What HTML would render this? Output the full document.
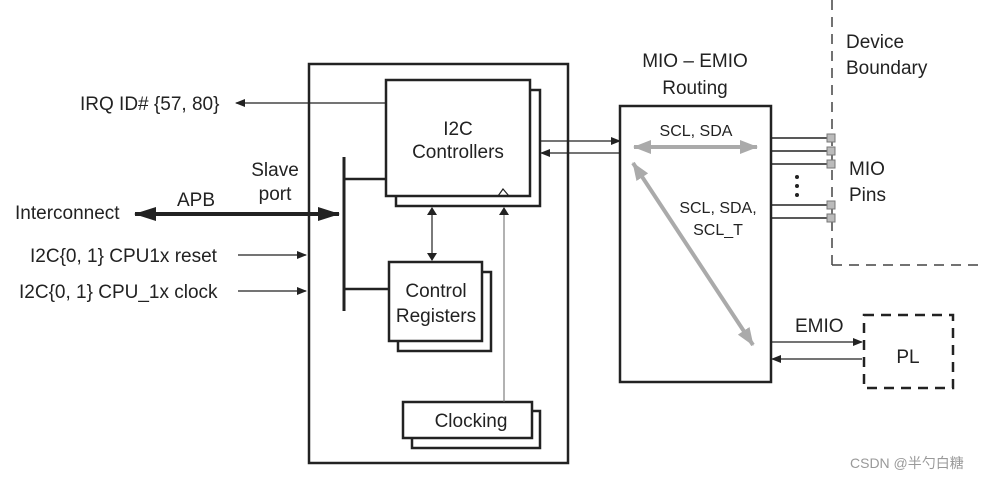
<!DOCTYPE html>
<html><head><meta charset="utf-8"><style>
body{margin:0;background:#fff;}
svg text{font-family:"Liberation Sans",Arial,sans-serif;fill:#222;}
</style></head><body>
<svg width="1002" height="481" viewBox="0 0 1002 481" xmlns="http://www.w3.org/2000/svg">
<defs>
<marker id="a" markerWidth="10" markerHeight="8" refX="9" refY="4" orient="auto" markerUnits="userSpaceOnUse"><path d="M0,0 L10,4 L0,8 Z" fill="#222"/></marker>
<marker id="ab" markerWidth="22" markerHeight="14" refX="21" refY="7" orient="auto-start-reverse" markerUnits="userSpaceOnUse"><path d="M0,0 L22,7 L0,14 Z" fill="#222"/></marker>
<marker id="ag" markerWidth="18" markerHeight="14" refX="17" refY="7" orient="auto-start-reverse" markerUnits="userSpaceOnUse"><path d="M0,0 L18,7 L0,14 Z" fill="#aaa"/></marker>
<marker id="as" markerWidth="8" markerHeight="10" refX="7" refY="5" orient="auto-start-reverse" markerUnits="userSpaceOnUse"><path d="M0,0 L8,5 L0,10 Z" fill="#222"/></marker>
</defs>
<g fill="none" stroke="#222">
<rect x="309" y="64" width="259" height="399" stroke-width="2.5"/>
<rect x="396" y="90" width="144" height="116" fill="#fff" stroke-width="2.5"/>
<rect x="386" y="80" width="144" height="116" fill="#fff" stroke-width="2.5"/>
<path d="M498,196 L503,189 L509,196" stroke-width="1.2"/>
<rect x="398" y="272" width="93" height="79" fill="#fff" stroke-width="2.5"/>
<rect x="389" y="262" width="93" height="79" fill="#fff" stroke-width="2.5"/>
<rect x="412" y="411" width="128" height="37" fill="#fff" stroke-width="2.5"/>
<rect x="403" y="402" width="129" height="36" fill="#fff" stroke-width="2.5"/>
<line x1="344" y1="157" x2="344" y2="311" stroke-width="3"/>
<line x1="344" y1="179" x2="386" y2="179" stroke-width="2.5"/>
<line x1="344" y1="289" x2="389" y2="289" stroke-width="2.5"/>
<line x1="135" y1="214" x2="339" y2="214" stroke-width="4" marker-start="url(#ab)" marker-end="url(#ab)"/>
<line x1="238" y1="255" x2="306" y2="255" stroke-width="1.2" marker-end="url(#a)"/>
<line x1="238" y1="291" x2="306" y2="291" stroke-width="1.2" marker-end="url(#a)"/>
<line x1="386" y1="103" x2="236" y2="103" stroke-width="1.2" marker-end="url(#a)"/>
<line x1="432" y1="208" x2="432" y2="260" stroke-width="1.2" marker-start="url(#as)" marker-end="url(#as)"/>
<line x1="504" y1="402" x2="504" y2="208" stroke-width="1" stroke="#666" marker-end="url(#as)"/>
<line x1="540" y1="141" x2="620" y2="141" stroke-width="1.2" marker-end="url(#a)"/>
<line x1="620" y1="153" x2="541" y2="153" stroke-width="1.2" marker-end="url(#a)"/>
<rect x="620" y="106" width="151" height="276" stroke-width="2.5"/>
<line x1="634" y1="147" x2="757" y2="147" stroke="#aaa" stroke-width="4" marker-start="url(#ag)" marker-end="url(#ag)"/>
<line x1="633" y1="163" x2="753" y2="345" stroke="#aaa" stroke-width="4" marker-start="url(#ag)" marker-end="url(#ag)"/>
<g stroke-width="1.5">
<line x1="771" y1="138" x2="831" y2="138"/><line x1="771" y1="151" x2="831" y2="151"/>
<line x1="771" y1="164" x2="831" y2="164"/><line x1="771" y1="205" x2="831" y2="205"/>
<line x1="771" y1="218" x2="831" y2="218"/>
</g>
<line x1="832" y1="0" x2="832" y2="265" stroke="#444" stroke-width="1.5" stroke-dasharray="10,7"/>
<line x1="832" y1="265" x2="978" y2="265" stroke="#444" stroke-width="1.5" stroke-dasharray="10,7"/>
<g fill="#bbb" stroke="#777" stroke-width="1">
<rect x="827" y="134" width="8" height="8"/><rect x="827" y="147" width="8" height="8"/>
<rect x="827" y="160" width="8" height="8"/><rect x="827" y="201" width="8" height="8"/>
<rect x="827" y="214" width="8" height="8"/>
</g>
<line x1="771" y1="342" x2="862" y2="342" stroke-width="1.2" marker-end="url(#a)"/>
<line x1="862" y1="359" x2="772" y2="359" stroke-width="1.2" marker-end="url(#a)"/>
<rect x="864" y="315" width="89" height="73" stroke-width="2.5" stroke-dasharray="10,7"/>
</g>
<g fill="#222"><circle cx="797" cy="177" r="2"/><circle cx="797" cy="186" r="2"/><circle cx="797" cy="195" r="2"/></g>
<g font-size="19">
<text x="458" y="135" text-anchor="middle">I2C</text>
<text x="458" y="158" text-anchor="middle">Controllers</text>
<text x="436" y="297" text-anchor="middle">Control</text>
<text x="436" y="322" text-anchor="middle">Registers</text>
<text x="471" y="427" text-anchor="middle">Clocking</text>
<text x="695" y="67" text-anchor="middle">MIO – EMIO</text>
<text x="695" y="94" text-anchor="middle">Routing</text>
<text x="846" y="48">Device</text>
<text x="846" y="74">Boundary</text>
<text x="849" y="175">MIO</text>
<text x="849" y="201">Pins</text>
<text x="795" y="332">EMIO</text>
<text x="908" y="363" text-anchor="middle">PL</text>
<text x="80" y="110">IRQ ID# {57, 80}</text>
<text x="275" y="176" text-anchor="middle">Slave</text>
<text x="275" y="200" text-anchor="middle">port</text>
<text x="196" y="206" text-anchor="middle">APB</text>
<text x="15" y="219">Interconnect</text>
<text x="30" y="262">I2C{0, 1} CPU1x reset</text>
<text x="19" y="298">I2C{0, 1} CPU_1x clock</text>
</g>
<g font-size="16">
<text x="696" y="136" text-anchor="middle">SCL, SDA</text>
<text x="718" y="213" text-anchor="middle">SCL, SDA,</text>
<text x="718" y="235" text-anchor="middle">SCL_T</text>
</g>
<text x="850" y="468" font-size="14" style="fill:#999;font-family:'Liberation Sans','Noto Sans CJK SC',sans-serif">CSDN @半勺白糖</text>
</svg>
</body></html>
